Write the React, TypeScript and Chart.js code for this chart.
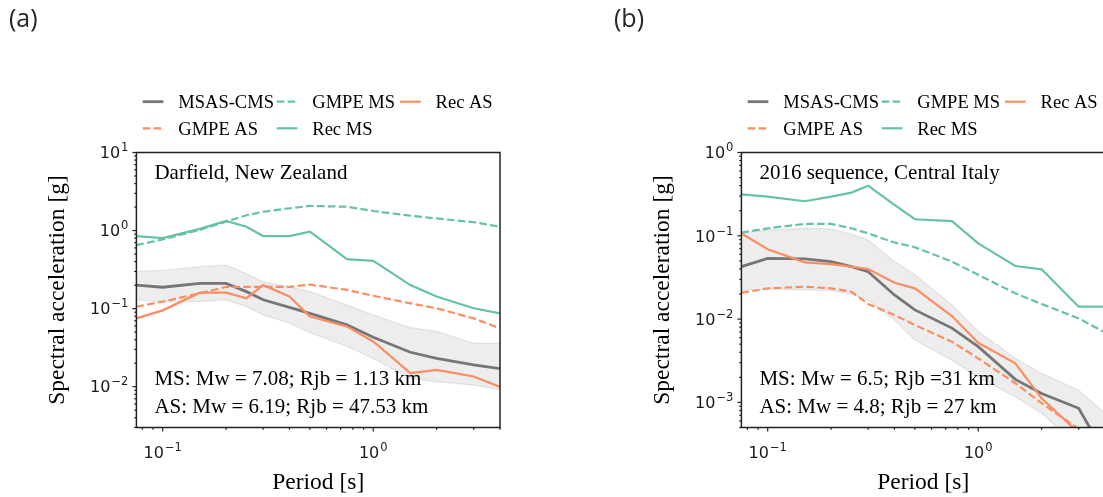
import React, { useEffect, useRef } from 'react';
import { Chart, registerables } from 'chart.js';

Chart.register(...registerables);

// ---------------- data ----------------
const PERIODS = [0.075, 0.1, 0.15, 0.2, 0.25, 0.3, 0.4, 0.5, 0.75, 1.0, 1.5, 2.0, 3.0, 4.0];

// (a) Darfield, New Zealand
const MSAS_CMS_A = [0.2, 0.188, 0.21, 0.21, 0.165, 0.13, 0.104, 0.087, 0.062, 0.043, 0.0276, 0.0231, 0.019, 0.017];
const GMPE_MS_A = [0.65, 0.77, 1.02, 1.3, 1.57, 1.74, 1.93, 2.07, 2.02, 1.78, 1.55, 1.43, 1.28, 1.12];
const REC_AS_A = [0.075, 0.095, 0.16, 0.16, 0.136, 0.2, 0.143, 0.079, 0.059, 0.038, 0.0149, 0.0164, 0.0135, 0.0099];
const GMPE_AS_A = [0.106, 0.123, 0.157, 0.19, 0.19, 0.19, 0.19, 0.203, 0.174, 0.146, 0.117, 0.101, 0.075, 0.056];
const REC_MS_A = [0.85, 0.8, 1.05, 1.33, 1.12, 0.85, 0.85, 0.97, 0.43, 0.41, 0.2, 0.143, 0.101, 0.087];
const BAND_UP_A = [0.3, 0.31, 0.345, 0.36, 0.28, 0.22, 0.19, 0.165, 0.111, 0.083, 0.057, 0.051, 0.036, 0.036];
const BAND_LOW_A = [0.13, 0.123, 0.123, 0.13, 0.106, 0.083, 0.065, 0.049, 0.033, 0.023, 0.0128, 0.0116, 0.0105, 0.0091];

// (b) 2016 sequence, Central Italy
const MSAS_CMS_B = [0.0426, 0.0537, 0.053, 0.049, 0.0426, 0.037, 0.0195, 0.0129, 0.0078, 0.00467, 0.00189, 0.00128, 0.00085, 0.00024];
const GMPE_MS_B = [0.109, 0.123, 0.139, 0.139, 0.123, 0.107, 0.083, 0.073, 0.049, 0.034, 0.0204, 0.0152, 0.0102, 0.0069];
const REC_AS_B = [0.107, 0.069, 0.048, 0.0458, 0.0426, 0.04, 0.0273, 0.0234, 0.0109, 0.0052, 0.00294, 0.00112, 0.00043, 0.00015];
const GMPE_AS_B = [0.0207, 0.0234, 0.0245, 0.0234, 0.0213, 0.0152, 0.0112, 0.0085, 0.00535, 0.00338, 0.0017, 0.00098, 0.00048, 0.0002];
const REC_MS_B = [0.315, 0.295, 0.26, 0.295, 0.33, 0.4, 0.235, 0.158, 0.15, 0.081, 0.0434, 0.0396, 0.0141, 0.0141];
const BAND_UP_B = [0.109, 0.117, 0.123, 0.121, 0.105, 0.089, 0.049, 0.034, 0.0148, 0.0071, 0.0034, 0.00223, 0.0014, 0.00074];
const BAND_LOW_B = [0.022, 0.023, 0.0225, 0.022, 0.02, 0.017, 0.0098, 0.0056, 0.0032, 0.002, 0.00117, 0.00074, 0.0003, 0.00015];

const LEGEND_LABELS = ['MSAS-CMS', 'GMPE MS', 'Rec AS', 'GMPE AS', 'Rec MS'];
const X_LABEL = 'Period [s]';
const Y_LABEL = 'Spectral acceleration [g]';

// ---------------- styles ----------------
const GREEN = '#66c2a5';
const ORANGE = '#fc8d62';
const GREY = '#767676';
const DASH = [7.6, 3.3];
const SERIF = '"Liberation Serif", "Times New Roman", serif';
const SANS = '"DejaVu Sans", sans-serif';

const STYLES: Record<string, { color: string; width: number; dash: number[] }> = {
  'MSAS-CMS': { color: GREY, width: 2.8, dash: [] },
  'GMPE MS': { color: GREEN, width: 2.2, dash: DASH },
  'Rec AS': { color: ORANGE, width: 2.2, dash: [] },
  'GMPE AS': { color: ORANGE, width: 2.2, dash: DASH },
  'Rec MS': { color: GREEN, width: 2.2, dash: [] },
};

const H = 497;
const TOP = 152.5;
const BOTTOM = 427.5;

interface PanelCfg {
  tag: string;
  canvasLeft: number;
  canvasWidth: number;
  left: number;
  right: number;
  xMin: number;
  xMax: number;
  yMin: number;
  yMax: number;
  title: string;
  ms: string;
  as: string;
  series: Record<string, number[]>;
  bandUp: number[];
  bandLow: number[];
}

const PANELS: PanelCfg[] = [
  {
    tag: '(a)', canvasLeft: 0, canvasWidth: 560, left: 136.4, right: 500,
    xMin: 0.075, xMax: 4, yMin: 0.003, yMax: 10,
    title: 'Darfield, New Zealand',
    ms: 'MS: Mw = 7.08; Rjb = 1.13 km',
    as: 'AS: Mw = 6.19; Rjb = 47.53 km',
    series: { 'MSAS-CMS': MSAS_CMS_A, 'GMPE MS': GMPE_MS_A, 'Rec AS': REC_AS_A, 'GMPE AS': GMPE_AS_A, 'Rec MS': REC_MS_A },
    bandUp: BAND_UP_A, bandLow: BAND_LOW_A,
  },
  {
    tag: '(b)', canvasLeft: 560, canvasWidth: 580, left: 741.4, right: 1105,
    xMin: 0.075, xMax: 4, yMin: 0.0005, yMax: 1,
    title: '2016 sequence, Central Italy',
    ms: 'MS: Mw = 6.5; Rjb =31 km',
    as: 'AS: Mw = 4.8; Rjb = 27 km',
    series: { 'MSAS-CMS': MSAS_CMS_B, 'GMPE MS': GMPE_MS_B, 'Rec AS': REC_AS_B, 'GMPE AS': GMPE_AS_B, 'Rec MS': REC_MS_B },
    bandUp: BAND_UP_B, bandLow: BAND_LOW_B,
  },
];

const pts = (vals: number[]) => PERIODS.map((t, i) => ({ x: t, y: vals[i] }));

function logTicks(min: number, max: number) {
  const out: { v: number; major: boolean; e: number }[] = [];
  for (let e = -5; e <= 2; e++) {
    for (let m = 1; m <= 9; m++) {
      const v = m * Math.pow(10, e);
      if (v >= min * 0.9999 && v <= max * 1.0001) out.push({ v, major: m === 1, e });
    }
  }
  return out;
}

function drawPow(ctx: CanvasRenderingContext2D, e: number, x: number, y: number, align: 'center' | 'right') {
  const base = '10';
  const sup = e < 0 ? '\u2212' + -e : String(e);
  ctx.font = '16px ' + SANS;
  const wb = ctx.measureText(base).width;
  ctx.font = '11.5px ' + SANS;
  const ws = ctx.measureText(sup).width;
  const gap = 1;
  const total = wb + gap + ws;
  const x0 = align === 'center' ? x - total / 2 : x - total;
  ctx.textAlign = 'left';
  ctx.textBaseline = 'alphabetic';
  ctx.fillStyle = '#1a1a1a';
  ctx.font = '16px ' + SANS;
  ctx.fillText(base, x0, y);
  ctx.font = '11.5px ' + SANS;
  ctx.fillText(sup, x0 + wb + gap, y - 7);
}

function makeDecor(cfg: PanelCfg) {
  return {
    id: 'decor' + cfg.tag,
    afterDraw(chart: any) {
      const ctx: CanvasRenderingContext2D = chart.ctx;
      const xs = chart.scales.x;
      const ys = chart.scales.y;
      const { left: L, right: R, top: T, bottom: B } = chart.chartArea;
      const off = cfg.canvasLeft;
      ctx.save();

      // spines
      ctx.strokeStyle = '#222';
      ctx.lineWidth = 1.5;
      ctx.setLineDash([]);
      ctx.strokeRect(L, T, R - L, B - T);

      // ticks
      ctx.lineWidth = 1.2;
      for (const t of logTicks(cfg.xMin, cfg.xMax)) {
        const px = xs.getPixelForValue(t.v);
        const len = t.major ? 4 : 2.2;
        ctx.beginPath();
        ctx.moveTo(px, B);
        ctx.lineTo(px, B + len);
        ctx.stroke();
        if (t.major) drawPow(ctx, t.e, px, B + 30.8, 'center');
      }
      for (const t of logTicks(cfg.yMin, cfg.yMax)) {
        const py = ys.getPixelForValue(t.v);
        const len = t.major ? 4 : 2.2;
        ctx.beginPath();
        ctx.moveTo(L, py);
        ctx.lineTo(L - len, py);
        ctx.stroke();
        if (t.major) drawPow(ctx, t.e, L - 8, py + 5.8, 'right');
      }

      // axis titles
      ctx.fillStyle = '#000';
      ctx.font = '23.5px ' + SERIF;
      ctx.textAlign = 'center';
      ctx.textBaseline = 'alphabetic';
      ctx.fillText(X_LABEL, (L + R) / 2, 489);
      ctx.save();
      ctx.translate(L - 72.5, (T + B) / 2);
      ctx.rotate(-Math.PI / 2);
      ctx.fillText(Y_LABEL, 0, 0);
      ctx.restore();

      // annotations
      ctx.font = '21px ' + SERIF;
      ctx.textAlign = 'left';
      ctx.fillText(cfg.title, L + 18, 178.5);
      ctx.fillText(cfg.ms, L + 18, 385);
      ctx.fillText(cfg.as, L + 18, 413.3);

      // legend
      const colX = [6.3, 140.3, 263.6];
      const rowY = [101.7, 128.3];
      const grid: [string, number, number][] = [
        [LEGEND_LABELS[0], 0, 0], [LEGEND_LABELS[1], 1, 0], [LEGEND_LABELS[2], 2, 0],
        [LEGEND_LABELS[3], 0, 1], [LEGEND_LABELS[4], 1, 1],
      ];
      ctx.font = '18.5px ' + SERIF;
      for (const [lab, c, r] of grid) {
        const st = STYLES[lab];
        const hx = L + colX[c];
        const hy = rowY[r];
        ctx.strokeStyle = st.color;
        ctx.lineWidth = st.width;
        ctx.setLineDash(st.dash);
        ctx.beginPath();
        ctx.moveTo(hx, hy);
        ctx.lineTo(hx + 20.7, hy);
        ctx.stroke();
        ctx.setLineDash([]);
        ctx.fillStyle = '#000';
        ctx.fillText(lab, hx + 35.6, hy + 6.2);
      }

      // panel tag
      ctx.font = '25px "Open Sans", sans-serif';
      ctx.fillStyle = '#262626';
      ctx.fillText(cfg.tag, 9 + (cfg.canvasLeft === 0 ? 0 : 605) - off, 27);

      ctx.restore();
    },
  };
}

function Panel({ cfg }: { cfg: PanelCfg }) {
  const ref = useRef<HTMLCanvasElement>(null);
  useEffect(() => {
    const canvas = ref.current;
    if (!canvas) return;
    const order = ['Rec AS', 'Rec MS', 'GMPE MS', 'GMPE AS', 'MSAS-CMS'];
    const lines = order.map((lab) => ({
      label: lab,
      data: pts(cfg.series[lab]),
      borderColor: STYLES[lab].color,
      borderWidth: STYLES[lab].width,
      borderDash: STYLES[lab].dash,
      pointRadius: 0,
      fill: false,
      tension: 0,
    }));
    const band = [
      {
        label: 'band upper',
        data: pts(cfg.bandUp),
        borderColor: 'rgba(150,150,150,0.22)',
        borderWidth: 1.2,
        backgroundColor: 'rgba(128,128,128,0.14)',
        pointRadius: 0,
        fill: '+1',
        tension: 0,
      },
      {
        label: 'band lower',
        data: pts(cfg.bandLow),
        borderColor: 'rgba(150,150,150,0.22)',
        borderWidth: 1.2,
        pointRadius: 0,
        fill: false,
        tension: 0,
      },
    ];
    const chart = new Chart(canvas, {
      type: 'line',
      data: { datasets: [...lines, ...band] as any },
      options: {
        animation: false,
        responsive: false,
        events: [],
        layout: {
          padding: {
            left: cfg.left - cfg.canvasLeft,
            right: cfg.canvasLeft + cfg.canvasWidth - cfg.right,
            top: TOP,
            bottom: H - BOTTOM,
          },
        },
        plugins: { legend: { display: false }, tooltip: { enabled: false } },
        scales: {
          x: {
            type: 'logarithmic',
            min: cfg.xMin,
            max: cfg.xMax,
            grid: { display: false },
            ticks: { display: false },
            border: { display: false },
            afterFit: (s: any) => { s.height = 0; },
          },
          y: {
            type: 'logarithmic',
            min: cfg.yMin,
            max: cfg.yMax,
            grid: { display: false },
            ticks: { display: false },
            border: { display: false },
            afterFit: (s: any) => { s.width = 0; },
          },
        },
      } as any,
      plugins: [makeDecor(cfg)],
    });
    return () => chart.destroy();
  }, [cfg]);
  return (
    <canvas
      ref={ref}
      width={cfg.canvasWidth}
      height={H}
      style={{ position: 'absolute', left: cfg.canvasLeft, top: 0, width: cfg.canvasWidth, height: H }}
    />
  );
}

export default function App() {
  return (
    <div style={{ position: 'fixed', left: 0, top: 0, width: 1103, height: H, overflow: 'hidden', background: '#fff' }}>
      {PANELS.map((p) => (
        <Panel key={p.tag} cfg={p} />
      ))}
    </div>
  );
}
